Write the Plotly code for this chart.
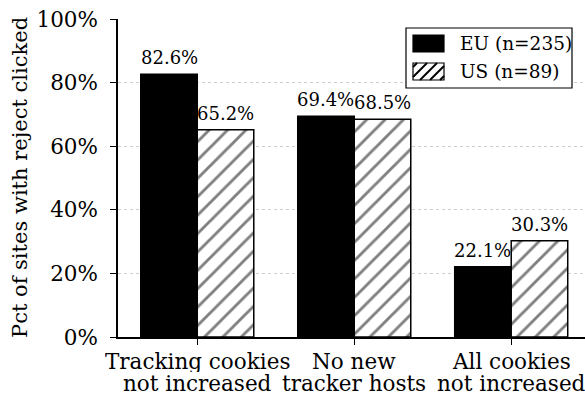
import plotly.graph_objects as go

# Chart data
categories = ["Tracking cookies<br>not increased", "No new<br>tracker hosts", "All cookies<br>not increased"]
eu_values = [82.6, 69.4, 22.1]
us_values = [65.2, 68.5, 30.3]
series_names = ["EU (n=235)", "US (n=89)"]
y_ticks = [0, 20, 40, 60, 80, 100]
y_title = "Pct of sites with reject clicked"

FONT = "DejaVu Serif"
W, H = 585, 395
ML, MR, MT, MB = 118, 0, 19, 58
PW, PH = W - ML - MR, H - MT - MB


def px_x(x):
    return (x - ML) / PW


def px_y(y):
    return 1 - (y - MT) / PH


def font(size):
    return dict(family=FONT, size=size, color="black")


x_idx = list(range(len(categories)))

fig = go.Figure()
fig.add_trace(go.Bar(
    x=x_idx, y=eu_values, name=series_names[0],
    marker=dict(color="black", line=dict(color="black", width=1.5)),
    showlegend=False,
))
fig.add_trace(go.Bar(
    x=x_idx, y=us_values, name=series_names[1],
    marker=dict(color="white", line=dict(color="black", width=1.5),
                pattern=dict(shape="/", fgcolor="black", bgcolor="white",
                             size=13, solidity=0.22)),
    showlegend=False,
))

annotations = []
# value labels above each bar
for i, (e, u) in enumerate(zip(eu_values, us_values)):
    for off, v in ((-0.18, e), (0.18, u)):
        annotations.append(dict(
            x=i + off, y=v, xref="x", yref="y", text=f"{v}%",
            showarrow=False, yanchor="bottom", yshift=4, font=font(18),
        ))

# category labels, one annotation per line for tighter line spacing
LINE_GAP = 22
for i, cat in enumerate(categories):
    for k, line in enumerate(cat.split("<br>")):
        annotations.append(dict(
            x=i, y=px_y(361 + LINE_GAP * k), xref="x", yref="paper", text=line,
            showarrow=False, xanchor="center", yanchor="middle",
            height=LINE_GAP, valign="middle", borderpad=0, font=font(21.5),
        ))

# rotated axis title
annotations.append(dict(
    x=px_x(20), y=px_y((MT + H - MB) / 2), xref="paper", yref="paper",
    text=y_title, textangle=-90, showarrow=False,
    xanchor="center", yanchor="middle", font=font(21),
))

# legend box with swatches
shapes = []
lx0, lx1, ly0, ly1 = 406, 572, 28, 88
shapes.append(dict(type="rect", xref="paper", yref="paper",
                   x0=px_x(lx0), x1=px_x(lx1), y0=px_y(ly1), y1=px_y(ly0),
                   line=dict(color="black", width=1.2), fillcolor="white", layer="above"))
sw_x0, sw_x1 = 413, 444
swatches = [(35, 52), (63, 80)]
shapes.append(dict(type="rect", xref="paper", yref="paper",
                   x0=px_x(sw_x0), x1=px_x(sw_x1),
                   y0=px_y(swatches[0][1]), y1=px_y(swatches[0][0]),
                   line=dict(color="black", width=1.2), fillcolor="black", layer="above"))
t, b = swatches[1]
shapes.append(dict(type="rect", xref="paper", yref="paper",
                   x0=px_x(sw_x0), x1=px_x(sw_x1), y0=px_y(b), y1=px_y(t),
                   line=dict(color="black", width=1.2), fillcolor="white", layer="above"))
# diagonal hatch inside the second swatch
h = b - t
step = 10
c = sw_x0 - h + 4
while c < sw_x1:
    xa, ya = c, b
    xb, yb = c + h, t
    if xa < sw_x0:
        ya = b - (sw_x0 - xa)
        xa = sw_x0
    if xb > sw_x1:
        yb = t + (xb - sw_x1)
        xb = sw_x1
    if xb > xa:
        shapes.append(dict(type="line", xref="paper", yref="paper",
                           x0=px_x(xa), y0=px_y(ya), x1=px_x(xb), y1=px_y(yb),
                           line=dict(color="black", width=2), layer="above"))
    c += step
for (st, sb), name in zip(swatches, series_names):
    annotations.append(dict(
        x=px_x(458), y=px_y((st + sb) / 2), xref="paper", yref="paper",
        text=name, showarrow=False, xanchor="left", yanchor="middle",
        font=font(18.5),
    ))

fig.update_layout(
    width=W, height=H,
    margin=dict(l=ML, r=MR, t=MT, b=MB, pad=0),
    paper_bgcolor="white", plot_bgcolor="white",
    barmode="group", bargap=0.28, bargroupgap=0,
    font=font(20),
    annotations=annotations, shapes=shapes,
    showlegend=False,
)
fig.update_xaxes(
    range=[-0.505, 2.47], tickvals=x_idx, showticklabels=False,
    showline=True, linecolor="black", linewidth=1.5,
    ticks="outside", ticklen=6, tickcolor="black", tickwidth=1.2,
    showgrid=False, zeroline=False,
)
fig.update_yaxes(
    range=[0, 100], tickvals=y_ticks, ticktext=[f"{v}%" for v in y_ticks],
    showline=True, linecolor="black", linewidth=1.5,
    ticks="outside", ticklen=6, tickcolor="black", tickwidth=1.2,
    ticklabelstandoff=8,
    showgrid=True, gridcolor="#cfcfcf", gridwidth=1, griddash="dot",
    zeroline=False,
    tickfont=font(21.5),
)

fig.write_html("out.html")
